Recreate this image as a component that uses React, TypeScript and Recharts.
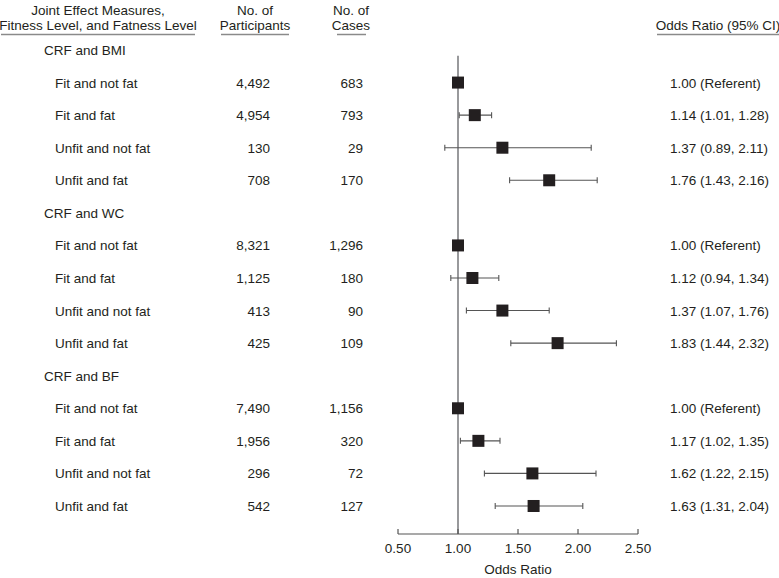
import React from 'react';
import {
  ScatterChart,
  Scatter,
  XAxis,
  YAxis,
  ErrorBar,
  ReferenceLine,
  Customized,
} from 'recharts';

const groupNames = ['CRF and BMI', 'CRF and WC', 'CRF and BF'];
const levelNames = ['Fit and not fat', 'Fit and fat', 'Unfit and not fat', 'Unfit and fat'];
const participants = [
  [4492, 4954, 130, 708],
  [8321, 1125, 413, 425],
  [7490, 1956, 296, 542],
];
const cases = [
  [683, 793, 29, 170],
  [1296, 180, 90, 109],
  [1156, 320, 72, 127],
];
const oddsRatios = [
  [1.0, 1.14, 1.37, 1.76],
  [1.0, 1.12, 1.37, 1.83],
  [1.0, 1.17, 1.62, 1.63],
];
const ciLower = [
  [null, 1.01, 0.89, 1.43],
  [null, 0.94, 1.07, 1.44],
  [null, 1.02, 1.22, 1.31],
];
const ciUpper = [
  [null, 1.28, 2.11, 2.16],
  [null, 1.34, 1.76, 2.32],
  [null, 1.35, 2.15, 2.04],
];
const xTicks = [0.5, 1.0, 1.5, 2.0, 2.5];
const referentValue = 1.0;

type Row = {
  row: number;
  kind: 'group' | 'level';
  label: string;
  n?: number;
  cases?: number;
  or?: number;
  lo?: number | null;
  hi?: number | null;
  err?: [number, number];
  x: number;
};

const rows: Row[] = [];
let idx = 0;
groupNames.forEach((g, gi) => {
  rows.push({ row: idx++, kind: 'group', label: g, x: referentValue });
  levelNames.forEach((l, li) => {
    const or = oddsRatios[gi][li];
    const lo = ciLower[gi][li];
    const hi = ciUpper[gi][li];
    rows.push({
      row: idx++,
      kind: 'level',
      label: l,
      n: participants[gi][li],
      cases: cases[gi][li],
      or,
      lo,
      hi,
      err: lo == null || hi == null ? [0, 0] : [+(or - lo).toFixed(4), +(hi - or).toFixed(4)],
      x: or,
    });
  });
});
const levelRows = rows.filter((r) => r.kind === 'level');

const FONT = '"Liberation Sans", Arial, Helvetica, sans-serif';
const TXT = '#231f20';
const FS = 13.5;

const fmtOR = (r: Row) =>
  r.lo == null || r.hi == null
    ? `${r.or!.toFixed(2)} (Referent)`
    : `${r.or!.toFixed(2)} (${r.lo.toFixed(2)}, ${r.hi.toFixed(2)})`;

const TextShape = (props: any) => {
  const { cy, payload } = props;
  const r: Row = payload;
  const y = cy + 5;
  if (r.kind === 'group') {
    return (
      <text x={44} y={y} fontSize={FS} fontFamily={FONT} fill={TXT}>
        {r.label}
      </text>
    );
  }
  return (
    <g fontSize={FS} fontFamily={FONT} fill={TXT}>
      <text x={55} y={y}>{r.label}</text>
      <text x={270} y={y} textAnchor="end">{r.n!.toLocaleString('en-US')}</text>
      <text x={363} y={y} textAnchor="end">{r.cases!.toLocaleString('en-US')}</text>
      <text x={670} y={y}>{fmtOR(r)}</text>
    </g>
  );
};

const SquareShape = (props: any) => {
  const { cx, cy } = props;
  return <rect x={cx - 6} y={cy - 6} width={12} height={12} fill={TXT} />;
};

const XTick = (props: any) => {
  const { x, y, payload } = props;
  return (
    <g>
      <line x1={x} y1={y - 5} x2={x} y2={y} stroke="#555" strokeWidth={1.2} />
      <text x={x} y={y + 19} textAnchor="middle" fontSize={FS} fontFamily={FONT} fill={TXT}>
        {Number(payload.value).toFixed(2)}
      </text>
    </g>
  );
};

const Headers = () => (
  <g fontSize={FS} fontFamily={FONT} fill={TXT}>
    <text x={98} y={15} textAnchor="middle">Joint Effect Measures,</text>
    <text x={98} y={30} textAnchor="middle">Fitness Level, and Fatness Level</text>
    <line x1={1} y1={34.5} x2={195} y2={34.5} stroke="#8a8a8a" strokeWidth={1.5} />
    <text x={255} y={15} textAnchor="middle">No. of</text>
    <text x={255} y={30} textAnchor="middle">Participants</text>
    <line x1={221} y1={34.5} x2={289} y2={34.5} stroke="#8a8a8a" strokeWidth={1.5} />
    <text x={351} y={15} textAnchor="middle">No. of</text>
    <text x={351} y={30} textAnchor="middle">Cases</text>
    <line x1={337} y1={34.5} x2={366} y2={34.5} stroke="#8a8a8a" strokeWidth={1.5} />
    <text x={718} y={30} textAnchor="middle">Odds Ratio (95% CI)</text>
    <line x1={657} y1={34.5} x2={779} y2={34.5} stroke="#8a8a8a" strokeWidth={1.5} />
    <text x={518} y={574} textAnchor="middle">Odds Ratio</text>
  </g>
);

export default function App() {
  return (
    <div style={{ position: 'absolute', left: 0, top: 0, width: 779, height: 578, background: '#fff' }}>
      <ScatterChart
        width={779}
        height={578}
        margin={{ top: 17.43, right: 141, bottom: 14, left: 398 }}
      >
        <XAxis
          type="number"
          dataKey="x"
          domain={[0.5, 2.5]}
          ticks={xTicks}
          height={30}
          tickSize={0}
          tickMargin={0}
          tickLine={false}
          axisLine={{ stroke: '#555', strokeWidth: 1.2 }}
          tick={<XTick />}
          interval={0}
        />
        <YAxis type="number" dataKey="row" domain={[-1, 14.86]} reversed hide />
        <ReferenceLine
          segment={[
            { x: referentValue, y: 0.18 },
            { x: referentValue, y: 14.86 },
          ]}
          stroke="#6d6e71"
          strokeWidth={1.4}
        />
        <Scatter data={rows} shape={<TextShape />} isAnimationActive={false} />
        <Scatter data={levelRows} shape={<SquareShape />} isAnimationActive={false}>
          <ErrorBar dataKey="err" direction="x" width={3} stroke="#555" strokeWidth={1.1} />
        </Scatter>
        <Customized component={<Headers />} />
      </ScatterChart>
    </div>
  );
}
